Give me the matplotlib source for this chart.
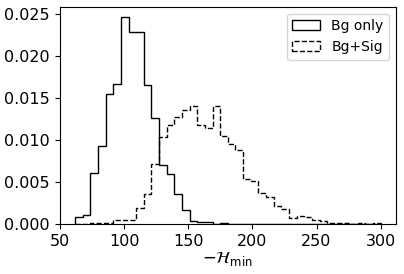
import matplotlib
matplotlib.use("Agg")
import matplotlib.pyplot as plt
import numpy as np

# common binning: 40 bins between the min and max of the samples
bin_low = 61.7
bin_high = 300.0
n_bins = 40

# normalised histogram heights
bg_only = [0.0008, 0.0011, 0.00605, 0.0093, 0.01547, 0.01667, 0.02466, 0.0229,
           0.0229, 0.01652, 0.01265, 0.00708, 0.00593, 0.00354, 0.00167, 0.0003,
           0.0002, 0.0002, 0.0, 0.0001, 0.0, 0.0, 0.0, 0.0,
           0.0, 0.0, 0.0, 0.0, 0.0, 0.0, 0.0, 0.0,
           0.0, 0.0, 0.0, 0.0, 0.0, 0.0, 0.0, 0.0]
bg_sig = [0.0, 0.0, 0.0001, 0.00015, 0.00015, 0.0005, 0.0005, 0.0005,
          0.0019, 0.0036, 0.0071, 0.0104, 0.0118, 0.0128, 0.0136, 0.0140,
          0.0118, 0.0114, 0.0141, 0.0105, 0.0095, 0.0088, 0.0054, 0.0051,
          0.0037, 0.0032, 0.0021, 0.0018, 0.0007, 0.0009, 0.0008, 0.0005,
          0.0003, 0.0001, 0.0001, 0.0001, 0.0, 0.0001, 0.0, 0.0001]

edges = np.linspace(bin_low, bin_high, n_bins + 1)
centres = 0.5 * (edges[:-1] + edges[1:])

fig = plt.figure(figsize=(4.04, 2.74), dpi=100)
ax = fig.add_axes([0.148, 0.1825, 0.832, 0.7935])

ax.hist(centres, bins=edges, weights=bg_only, histtype='step',
        color='black', linewidth=1.0, label='Bg only')
ax.hist(centres, bins=edges, weights=bg_sig, histtype='step',
        color='black', linewidth=1.0, linestyle='--', label='Bg+Sig')

ax.set_xticks([50, 100, 150, 200, 250, 300])
ax.set_yticks([0.0, 0.005, 0.010, 0.015, 0.020, 0.025])
ax.tick_params(labelsize=11.5)
ax.set_xlabel(r'$-\mathcal{H}_{\mathrm{min}}$', fontsize=12, labelpad=1)
ax.legend(loc='upper right', fontsize=10)

fig.savefig('out.png', dpi=100)
